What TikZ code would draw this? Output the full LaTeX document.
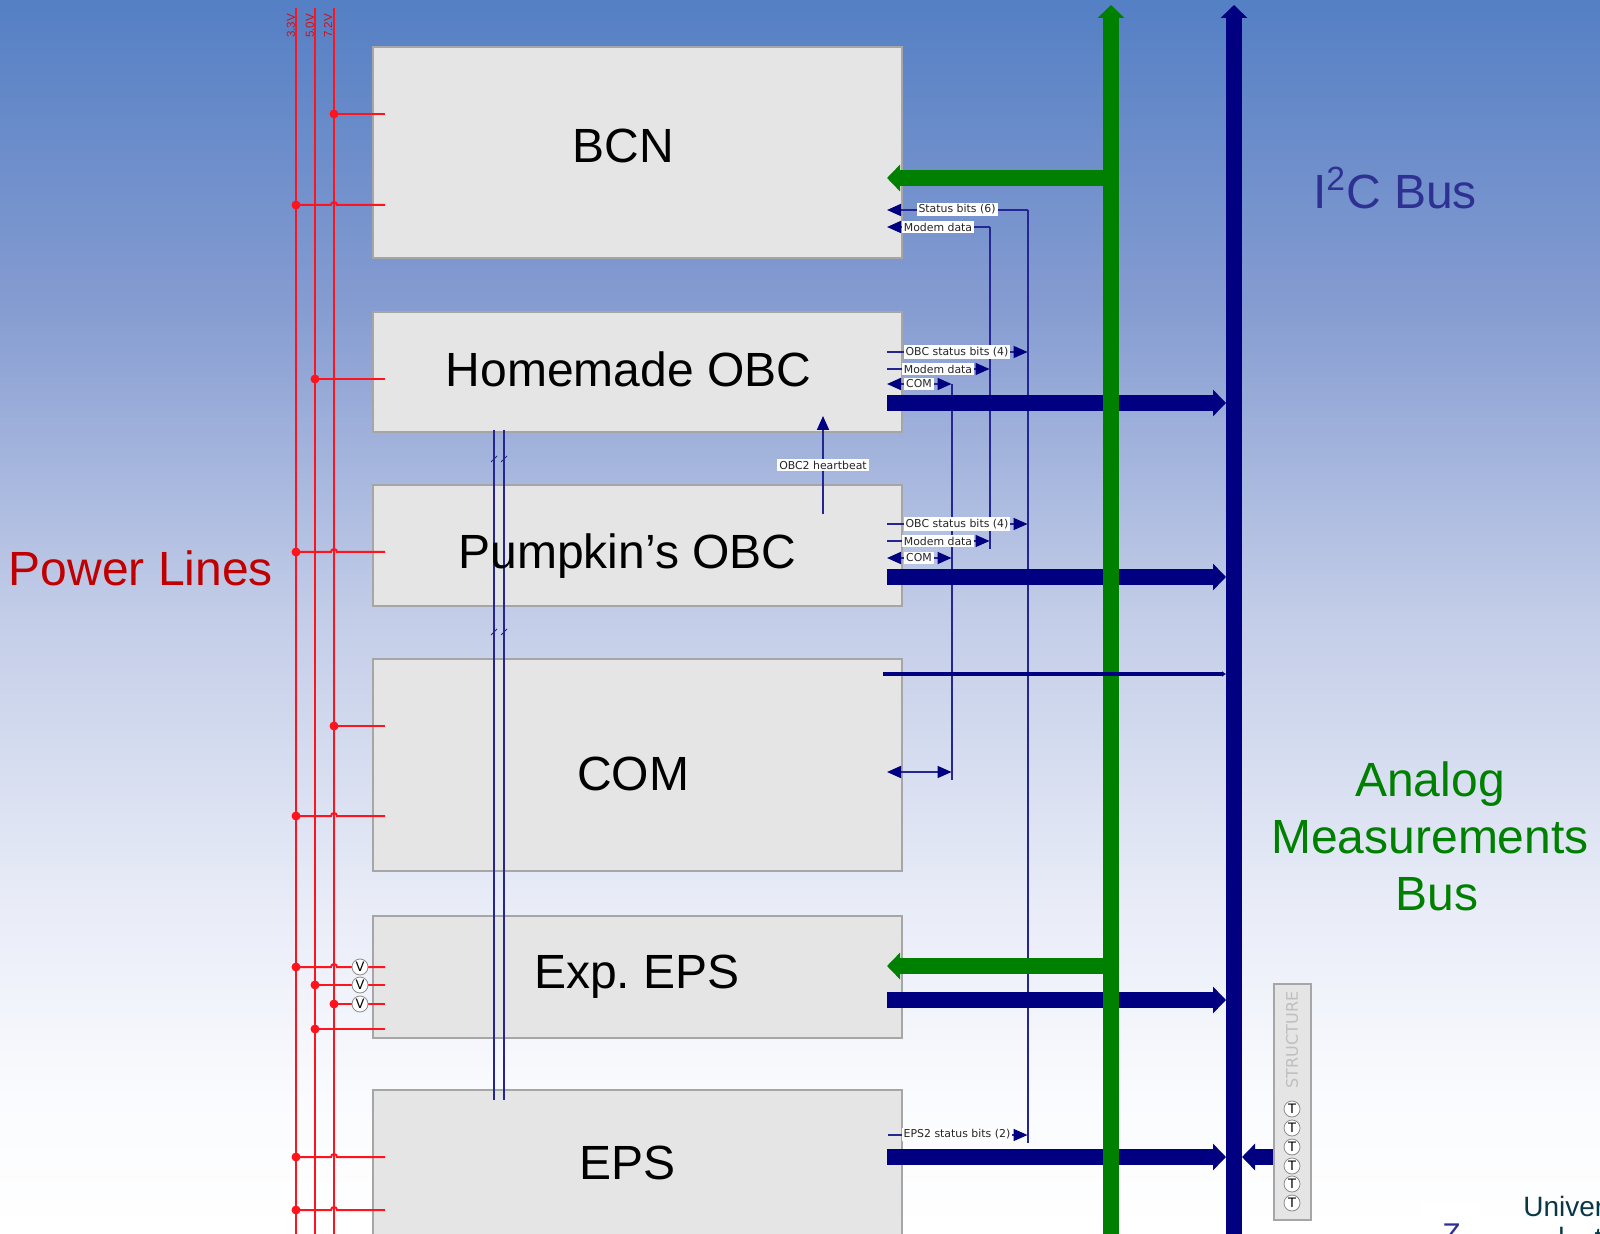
\documentclass[tikz,border=0pt]{standalone}
\usepackage{fontspec}
\setmainfont{Liberation Sans}
\newfontfamily\labelfont{DejaVu Sans}
\usepackage{xcolor}
\usepackage{tikz}
\usetikzlibrary{arrows.meta, calc}
\definecolor{boxgrey}{RGB}{229,229,229}
\definecolor{edgegrey}{RGB}{166,166,166}
\definecolor{busblue}{RGB}{0,0,128}
\definecolor{busgreen}{RGB}{0,128,0}
\definecolor{railred}{RGB}{255,20,30}
\definecolor{titlered}{RGB}{192,0,0}
\definecolor{titleblue}{RGB}{46,49,146}
\definecolor{logoteal}{RGB}{8,56,70}
\pgfdeclareverticalshading{skyfade}{100bp}{
  rgb(0bp)=(1,1,1);
  rgb(25bp)=(1,1,1);
  rgb(30.4bp)=(0.98,0.985,0.995);
  rgb(38.5bp)=(0.91,0.925,0.97);
  rgb(50bp)=(0.765,0.805,0.91);
  rgb(62.8bp)=(0.52,0.61,0.82);
  rgb(75bp)=(0.33,0.5,0.77);
  rgb(100bp)=(0.33,0.5,0.77)}

\begin{document}
\begin{tikzpicture}[
    x=0.5pt, y=-0.5pt,
    unitbox/.style={rectangle, draw=edgegrey, fill=boxgrey, line width=1pt, inner sep=0pt},
    title/.style={font=\fontsize{24}{28}\selectfont, align=center, inner sep=0pt},
    rail/.style={draw=railred, line width=1pt},
    railname/.style={rotate=90, text=railred!80!black, font=\fontsize{5.8}{7}\selectfont, inner sep=0pt},
    tap/.style={circle, fill=railred, minimum size=4.5pt, inner sep=0pt},
    meter/.style={circle, draw=black!45, fill=white, minimum size=8pt, inner sep=0pt, font=\labelfont\fontsize{6.5}{7}\selectfont},
    tag/.style={fill=white, inner sep=1pt, text=black!85, font=\labelfont\fontsize{5.45}{7}\selectfont},
    wire/.style={draw=busblue!85!white, line width=0.85pt},
    signal/.style={wire, -{Triangle[length=7pt,width=6pt,color=busblue]}},
    signalboth/.style={wire, {Triangle[length=7pt,width=6pt,color=busblue]}-{Triangle[length=7pt,width=6pt,color=busblue]}},
    thickbus/.style={draw=busblue, line width=8pt, -{Triangle[length=6.5pt,width=13pt]}},
    greenbus/.style={draw=busgreen, line width=8pt, -{Triangle[length=6.5pt,width=13pt]}}
]
\clip (0,0) rectangle (1600,1234);
\shade[shading=skyfade] (0,0) rectangle (1600,1234);
\useasboundingbox (0,0) rectangle (1600,1234);

% units
\node[unitbox, minimum width=264.5pt, minimum height=105.5pt, anchor=north west] (bcnbox) at (372,46) {};
\node[unitbox, minimum width=264.5pt, minimum height=60pt, anchor=north west] (homebox) at (372,311) {};
\node[unitbox, minimum width=264.5pt, minimum height=60.5pt, anchor=north west] (pumpbox) at (372,484.5) {};
\node[unitbox, minimum width=264.5pt, minimum height=106pt, anchor=north west] (combox) at (372,658) {};
\node[unitbox, minimum width=264.5pt, minimum height=61pt, anchor=north west] (expbox) at (372,915) {};
\node[unitbox, minimum width=264.5pt, minimum height=80pt, anchor=north west] (epsbox) at (372,1089) {};
\node[unitbox, minimum width=18.5pt, minimum height=118pt, anchor=north west] (structbox) at (1273,983) {};

% rails
\coordinate (r33top) at (296,8);
\coordinate (r50top) at (315,8);
\coordinate (r72top) at (334,8);
\coordinate (r33bot) at (296,1234);
\coordinate (r50bot) at (315,1234);
\coordinate (r72bot) at (334,1234);
\draw[rail] (r33top) -- (r33bot);
\draw[rail] (r50top) -- (r50bot);
\draw[rail] (r72top) -- (r72bot);
\node[railname] (l33) at (291,26) {3.3V};
\node[railname] (l50) at (310,26) {5.0V};
\node[railname] (l72) at (328,26) {7.2V};

% taps that hop over the 7.2V rail
\foreach \y in {205,552,816,967,1157,1210} {
  \node[tap] (hop\y) at (296,\y) {};
  \draw[rail] (hop\y.center) -- (331,\y) arc[start angle=180, end angle=360, radius=3] -- (385,\y);
}
% plain taps
\foreach \x/\y in {334/114,315/379,334/726,315/985,334/1004,315/1029} {
  \node[tap] (tap\y) at (\x,\y) {};
  \draw[rail] (tap\y.center) -- (385,\y);
}
\node[meter] (v1) at (360,967) {V};
\node[meter] (v2) at (360,985) {V};
\node[meter] (v3) at (360,1004) {V};

% box to box link
\coordinate (linkatop) at (494,430);
\coordinate (linkbtop) at (504,430);
\coordinate (linkabot) at (494,1100);
\coordinate (linkbbot) at (504,1100);
\draw[wire] (linkatop) -- (linkabot);
\draw[wire] (linkbtop) -- (linkbbot);
\foreach \x in {494,504} {
  \foreach \y in {459,632} {
    \draw[wire, line width=0.5pt] (\x-3,\y+3) -- (\x+3,\y-3);
  }
}

% thin signal lines
\coordinate (statusa) at (1028,210);
\coordinate (statusb) at (1028,1143);
\coordinate (modema) at (990,227);
\coordinate (modemb) at (990,549);
\coordinate (coma) at (952,384);
\coordinate (comb) at (952,780);
\draw[wire] (statusa) -- (statusb);
\draw[wire] (modema) -- (modemb);
\draw[wire] (coma) -- (comb);

\coordinate (bcnin) at (887,210);
\coordinate (bcnmodem) at (887,227);
\draw[signal] (statusa) -- (bcnin);
\draw[signal] (modema) -- (bcnmodem);
\node[tag] (t1) at (957,209.5) {Status bits (6)};
\node[tag] (t2) at (938,227) {Modem data};

\foreach \top/\low/\name in {352/384/home,524/558/pump} {
  \draw[signal] (887,\top) -- (1027.5,\top);
  \draw[signal] (887,\top+17) -- (989.5,\top+17);
  \draw[signalboth] (887,\low) -- (951.5,\low);
  \node[tag] (stat\name) at (957,\top) {OBC status bits (4)};
  \node[tag] (modem\name) at (938,\top+17) {Modem data};
  \node[tag] (com\name) at (919,\low) {COM};
}
\draw[signalboth] (887,772) -- (951.5,772);
\draw[signal] (888,1135) -- (1027.5,1135);
\node[tag] (t3) at (957,1134.5) {EPS2 status bits (2)};

\coordinate (beatfrom) at (823,514);
\coordinate (beatto) at (823,416);
\draw[signal] (beatfrom) -- (beatto);
\node[tag] (beat) at (823,465) {OBC2 heartbeat};

% buses
\coordinate (i2ctop) at (1234,5);
\coordinate (i2cbot) at (1234,1234);
\coordinate (anatop) at (1111,5);
\coordinate (anabot) at (1111,1234);
\draw[thickbus] (i2cbot) -- (i2ctop);
\foreach \y/\sx in {403/887,577/887,1000/887,1157/887} {
  \coordinate (busfrom\y) at (\sx,\y);
  \coordinate (busto\y) at (1226,\y);
  \draw[thickbus] (busfrom\y) -- (busto\y);
}
\coordinate (structout) at (1273,1157);
\coordinate (i2cin) at (1242,1157);
\draw[thickbus] (structout) -- (i2cin);
\draw[greenbus] (anabot) -- (anatop);
\coordinate (anabcn) at (1103,178);
\coordinate (bcnana) at (887,178);
\coordinate (anaexp) at (1103,966);
\coordinate (expana) at (887,966);
\draw[greenbus] (anabcn) -- (bcnana);
\draw[greenbus] (anaexp) -- (expana);
\coordinate (comout) at (883,674);
\coordinate (comin) at (1226,674);
\draw[draw=busblue, line width=1.6pt, -{Latex[length=2pt,width=3pt]}] (comout) -- (comin);

% structure sensors
\node[rotate=90, text=black!25, font=\labelfont\fontsize{8}{9}\selectfont, inner sep=0pt] (structname) at (1292,1040) {STRUCTURE};
\foreach \y in {1109,1128,1147,1166,1184,1203} {
  \node[meter] (temp\y) at (1292,\y) {T};
}

% texts
\node[title] (bcn) at (623.5,146) {BCN};
\node[title] (home) at (628.5,369) {Homemade OBC};
\node[title] (pump) at (627.5,556) {Pumpkin’s OBC};
\node[title] (com) at (633,773.5) {COM};
\node[title] (exp) at (637,977) {Exp.\ EPS};
\node[title] (eps) at (627.5,1163) {EPS};
\node[title, text=titlered] (power) at (141,568) {Power Lines};
\node[title, text=titleblue] (i2c) at (1395,188) {I\textsuperscript{2}C Bus};
\node[title, text=busgreen, font=\fontsize{24}{28.5}\selectfont] (analog) at (1430,836) {Analog\\Measurements\\\hspace*{7pt}Bus};

% logo corner
\fill[white] (1420,1203) rectangle (1481,1234);
\node[anchor=west, inner sep=0pt, text=logoteal, font=\fontsize{14}{16}\selectfont] (uni) at (1523,1209) {University};
\node[anchor=north west, inner sep=0pt, text=titleblue, font=\fontsize{15}{16}\selectfont] (zmark) at (1442,1223) {Z};
\node[anchor=north west, inner sep=0pt, text=logoteal, font=\fontsize{14}{16}\selectfont] (uni2) at (1558,1227) {l\hspace{15pt}t};
\end{tikzpicture}
\end{document}
